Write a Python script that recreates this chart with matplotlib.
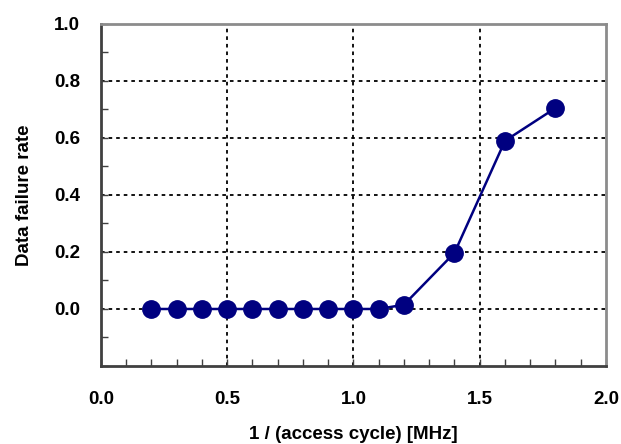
import matplotlib
matplotlib.use('Agg')
from matplotlib import pyplot as plt
from matplotlib.ticker import MultipleLocator, FixedLocator

# 数据
freq = [0.2, 0.3, 0.4, 0.5, 0.6, 0.7, 0.8, 0.9, 1.0, 1.1, 1.2, 1.4, 1.6, 1.8]
fail_rate = [0, 0, 0, 0, 0, 0, 0, 0, 0, 0, 0.015, 0.197, 0.59, 0.705]
y_ticks = [0.0, 0.2, 0.4, 0.6, 0.8, 1.0]
x_ticks = [0.0, 0.5, 1.0, 1.5, 2.0]


def main():
    plt.rcParams['font.family'] = ['Liberation Sans', 'DejaVu Sans']
    plt.rcParams['font.weight'] = 'bold'

    fig = plt.figure(figsize=(6.21, 4.44), dpi=100)
    ax = fig.add_axes([0.1626, 0.1757, 0.8132, 0.7703])

    ax.plot(freq, fail_rate, color='#000080', lw=1.8, marker='o', ms=12.5,
            zorder=3, clip_on=False)

    ax.set_xlim(0, 2.0)
    ax.set_ylim(-0.2, 1.0)
    ax.xaxis.set_major_locator(FixedLocator(x_ticks))
    ax.xaxis.set_minor_locator(MultipleLocator(0.1))
    ax.yaxis.set_major_locator(FixedLocator(y_ticks))
    ax.yaxis.set_minor_locator(MultipleLocator(0.1))
    ax.set_xticklabels(['%.1f' % v for v in x_ticks])
    ax.set_yticklabels(['%.1f' % v for v in y_ticks])
    ax.tick_params(which='both', direction='in', length=5, width=1,
                   color='#404040', labelsize=13.5)
    ax.tick_params(axis='x', pad=18)
    ax.tick_params(axis='y', pad=15)

    # 虚线网格
    for v in [0.5, 1.0, 1.5]:
        ax.axvline(v, color='black', lw=1.3, ls=(0, (2, 2.2)), zorder=1)
    for v in [0.0, 0.2, 0.4, 0.6, 0.8]:
        ax.axhline(v, color='black', lw=1.3, ls=(0, (2, 2.2)), zorder=1)

    for s in ['left', 'bottom']:
        ax.spines[s].set_color('#404040')
        ax.spines[s].set_linewidth(2)
    for s in ['top', 'right']:
        ax.spines[s].set_color('#8c8c8c')
        ax.spines[s].set_linewidth(2)

    ax.set_xlabel('1 / (access cycle) [MHz]', fontsize=13.5, fontweight='bold',
                  labelpad=13)
    ax.set_ylabel('Data failure rate', fontsize=13.5, fontweight='bold',
                  labelpad=15)

    fig.savefig('out.png', dpi=100)


if __name__ == '__main__':
    main()
